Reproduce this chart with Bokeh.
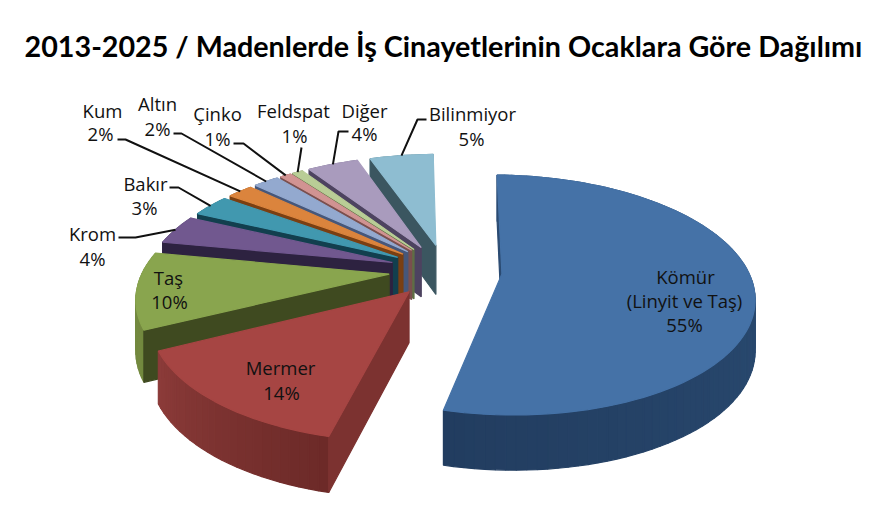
import math
from bokeh.plotting import figure
from bokeh.models import Range1d
from bokeh.core.properties import value
from bokeh.embed import file_html
from bokeh.resources import INLINE

names = ["Kömür", "Mermer", "Taş", "Krom", "Bakır", "Kum", "Altın", "Çinko", "Feldspat", "Diğer", "Bilinmiyor"]
values = [55, 14, 10, 4, 3, 2, 2, 1, 1, 4, 5]
# the slices' drawn shares (the printed labels are rounded differently)
shares = [53.5, 13.9, 10.3, 4.0, 3.0, 2.0, 2.0, 0.85, 0.85, 4.0, 5.0]
title = "2013-2025 / Madenlerde İş Cinayetlerinin Ocaklara Göre Dağılımı"

tops = ["#4572A7", "#A64543", "#89A54E", "#71588F", "#4198AF", "#DB843D", "#93A9CF", "#D19392", "#B9CD96", "#A99BBD", "#8EBDD1"]
sides = ["#2B4B72", "#7C3230", "#3F4A20", "#2D2240", "#123F4E", "#7A3F12", "#46577A", "#7A4F4E", "#5F6F45", "#4D4360", "#3B5660"]
arc_near = ["#30567F", "#6C2A28", "#73893F", "#4A3A60", "#2C6A7A", "#955A28", "#5F7090", "#8F6463", "#7E8C66", "#73688A", "#5F8A98"]
arc_far = ["#223D60", "#8C3B39", "#73893F", "#4A3A60", "#2C6A7A", "#955A28", "#5F7090", "#8F6463", "#7E8C66", "#73688A", "#5F8A98"]

# geometry of the tilted, exploded pie (in reference pixels)
CX, CY = 445, 270
A, B = 246, 115
F = 5.7
E = 0.23
D = 50
START = 1.0

edges = [START]
for v in shares:
    edges.append(edges[-1] + v * 3.6)


def project(X, Y):
    s = F / (F + Y)
    return CX + A * X * s, CY - B * Y * s, s


def slice_pt(i, deg, r=1.0):
    mid = math.radians((edges[i] + edges[i + 1]) / 2)
    t = math.radians(deg)
    return project(E * math.sin(mid) + r * math.sin(t), E * math.cos(mid) + r * math.cos(t))


def lerp_hex(c0, c1, u):
    a = [int(c0[j:j + 2], 16) for j in (1, 3, 5)]
    b = [int(c1[j:j + 2], 16) for j in (1, 3, 5)]
    return "#%02x%02x%02x" % tuple(round(p + (q - p) * u) for p, q in zip(a, b))


XS, YS, CS = [], [], []


def add(xs, ys, c):
    XS.append(xs)
    YS.append(ys)
    CS.append(c)


def depth(pt):
    return D * math.sqrt(pt[2])


for i in list(range(len(values) - 1, 0, -1)) + [0]:
    a0, a1 = edges[i], edges[i + 1]
    n = max(6, int((a1 - a0) / 2))
    degs = [a0 + (a1 - a0) * j / n for j in range(n + 1)]
    arc = [slice_pt(i, d) for d in degs]
    ap = slice_pt(i, 0, r=0.0)
    # outer wall
    for j in range(n):
        p, q = arc[j], arc[j + 1]
        add([p[0], q[0], q[0], p[0]], [p[1], q[1], q[1] + depth(q), p[1] + depth(p)],
            lerp_hex(arc_near[i], arc_far[i], (j + .5) / n))
    # radial wall at the start angle
    p = arc[0]
    add([p[0], ap[0], ap[0], p[0]], [p[1], ap[1], ap[1] + depth(ap), p[1] + depth(p)], sides[i])
    # top face
    add([ap[0]] + [a[0] for a in arc], [ap[1]] + [a[1] for a in arc], tops[i])

p = figure(width=870, height=510, x_range=Range1d(0, 870), y_range=Range1d(510, 0),
           output_backend="svg", toolbar_location=None, min_border=0,
           background_fill_color="white", border_fill_color="white", outline_line_color=None)
p.axis.visible = False
p.grid.visible = False
p.patches(XS, YS, fill_color=CS, line_color=CS, line_width=1.2)

# leaders: slice index, label-side points
leaders = [
    (3, [(118, 237), (135, 237)]),
    (4, [(169, 187), (178, 187)]),
    (5, [(117, 139), (125, 139)]),
    (6, [(173, 133), (181, 133)]),
    (7, [(233, 143), (243, 143)]),
    (8, [(301, 147)]),
    (9, [(348, 131), (338, 131)]),
    (10, [(426, 119), (417, 119)]),
]
lx, ly = [], []
for i, pts in leaders:
    m = slice_pt(i, (edges[i] + edges[i + 1]) / 2)
    lx.append([q[0] for q in pts] + [m[0]])
    ly.append([q[1] for q in pts] + [m[1]])
p.multi_line(lx, ly, line_color="#111111", line_width=2)

# label placement: name lines with centres, percent centre
labels = [
    (0, [("Kömür", 685, 276), ("(Linyit ve Taş)", 684, 300)], (684, 324)),
    (1, [("Mermer", 280, 367)], (281, 392)),
    (2, [("Taş", 168, 277)], (169, 301)),
    (3, [("Krom", 92, 233)], (92, 258)),
    (4, [("Bakır", 145, 183)], (144, 207)),
    (5, [("Kum", 102, 110)], (100, 133)),
    (6, [("Altın", 157, 103)], (157, 128)),
    (7, [("Çinko", 217, 113)], (217, 138)),
    (8, [("Feldspat", 293, 110)], (294, 135)),
    (9, [("Diğer", 364, 110)], (364, 133)),
    (10, [("Bilinmiyor", 472, 113)], (471, 138)),
]
tx, ty, tt = [], [], []
for i, lines, pct in labels:
    for s, x, y in lines:
        tx.append(x); ty.append(y); tt.append(s)
    tx.append(pct[0]); ty.append(pct[1]); tt.append(f"{values[i]}%")
p.text(tx, ty, text=tt, text_font=value("Open Sans"), text_font_size="18.5px", text_color="#111111",
       text_align="center", text_baseline="middle")

p.text([443], [45], text=[title], text_font=value("Lato"), text_font_style="bold", text_font_size="28.7px",
       text_color="#000000", text_align="center", text_baseline="middle")

open("out.html", "w").write(file_html(p, INLINE))
